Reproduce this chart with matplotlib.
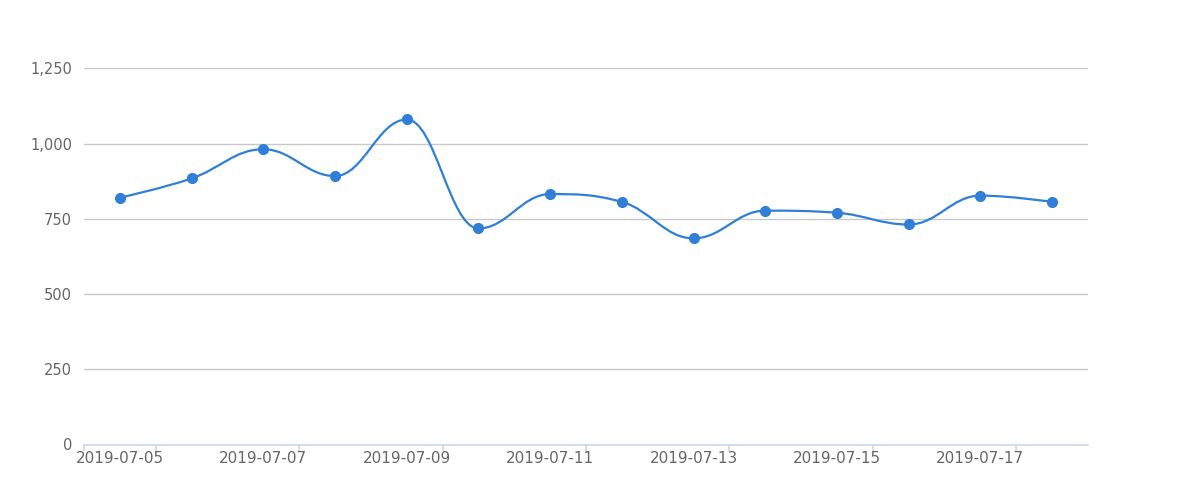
import numpy as np
import matplotlib
matplotlib.use("Agg")
import matplotlib.pyplot as plt
from matplotlib.path import Path
from matplotlib.patches import PathPatch

plt.rcParams["font.family"] = ["DejaVu Sans"]

dates = ["2019-07-05", "2019-07-06", "2019-07-07", "2019-07-08", "2019-07-09",
         "2019-07-10", "2019-07-11", "2019-07-12", "2019-07-13", "2019-07-14",
         "2019-07-15", "2019-07-16", "2019-07-17", "2019-07-18"]
values = [820, 884, 981, 892, 1080, 718, 832, 806, 685, 777, 770, 731, 827, 806]
yticks = [0, 250, 500, 750, 1000, 1250]

LINE = "#2f7ed8"
GRID = "#c8c8c8"
AXIS = "#ccd6eb"
TEXT = "#666666"

W, H = 1200, 500
fig = plt.figure(figsize=(12, 5), dpi=100)
L, R, B, T = 84, 1088, 444.5, 68.3
ax = fig.add_axes([L / W, (H - B) / H, (R - L) / W, (B - T) / H])

x = np.arange(len(values), dtype=float)
y = np.array(values, dtype=float)
ax.set_xlim(-0.5, len(values) - 0.5)
ax.set_ylim(0, 1250)


def spline_path(x, y, smoothing=1.5):
    # spline with control points kept between neighbours (no false extremes)
    denom = smoothing + 1
    n = len(x)
    left = [(x[i], y[i]) for i in range(n)]
    right = [(x[i], y[i]) for i in range(n)]
    for i in range(1, n - 1):
        lx = (smoothing * x[i] + x[i - 1]) / denom
        ly = (smoothing * y[i] + y[i - 1]) / denom
        rx = (smoothing * x[i] + x[i + 1]) / denom
        ry = (smoothing * y[i] + y[i + 1]) / denom
        corr = (ry - ly) * (rx - x[i]) / (rx - lx) + y[i] - ry
        ly += corr
        ry += corr
        if ly > y[i - 1] and ly > y[i]:
            ly = max(y[i - 1], y[i]); ry = 2 * y[i] - ly
        elif ly < y[i - 1] and ly < y[i]:
            ly = min(y[i - 1], y[i]); ry = 2 * y[i] - ly
        if ry > y[i + 1] and ry > y[i]:
            ry = max(y[i + 1], y[i]); ly = 2 * y[i] - ry
        elif ry < y[i + 1] and ry < y[i]:
            ry = min(y[i + 1], y[i]); ly = 2 * y[i] - ry
        left[i] = (lx, ly)
        right[i] = (rx, ry)
    verts = [(x[0], y[0])]
    codes = [Path.MOVETO]
    for i in range(1, n):
        verts += [right[i - 1], left[i], (x[i], y[i])]
        codes += [Path.CURVE4] * 3
    return Path(verts, codes)


ax.add_patch(PathPatch(spline_path(x, y), fill=False, edgecolor=LINE, lw=1.6,
                       zorder=3, capstyle="round", joinstyle="round"))
ax.plot(x, y, "o", color=LINE, markersize=7, zorder=4)

# grid
ax.set_yticks(yticks)
ax.set_yticklabels([f"{v:,}" for v in yticks])
for v in yticks[1:]:
    ax.axhline(v, color=GRID, lw=1, zorder=1)

for side in ["top", "right", "left"]:
    ax.spines[side].set_visible(False)
ax.spines["bottom"].set_color(AXIS)
ax.spines["bottom"].set_linewidth(1.2)

ax.tick_params(axis="y", length=0, pad=8.5, labelsize=10.5, labelcolor=TEXT)
ax.set_xticks(x[::2])
ax.set_xticklabels(dates[::2])
ax.tick_params(axis="x", length=0, pad=4.5, labelsize=11, labelcolor=TEXT)
# ticks sit on category boundaries
bticks = [-0.5] + [i + 0.5 for i in x[::2]]
ax.set_xticks(bticks, minor=True)
ax.tick_params(axis="x", which="minor", direction="out", length=4.5,
               color=AXIS, width=1.2, zorder=0)

fig.savefig("out.png", dpi=100, facecolor="white")
